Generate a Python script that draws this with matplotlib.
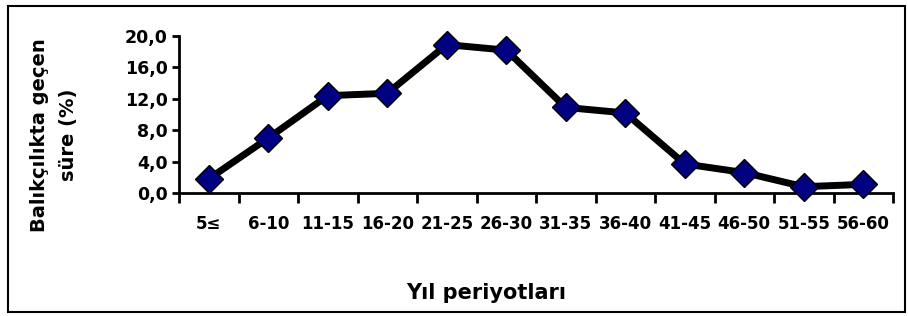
import matplotlib.pyplot as plt
from matplotlib.patches import Rectangle

periods = ['5≤', '6-10', '11-15', '16-20', '21-25', '26-30',
           '31-35', '36-40', '41-45', '46-50', '51-55', '56-60']
values = [1.8, 7.0, 12.4, 12.7, 18.9, 18.2, 10.9, 10.2, 3.7, 2.6, 0.8, 1.1]
yticks = [0, 4, 8, 12, 16, 20]

plt.rcParams['font.family'] = ['DejaVu Sans']
plt.rcParams['font.weight'] = 'bold'

fig = plt.figure(figsize=(9.08, 3.16), dpi=100)
ax = fig.add_axes([179/908, 1-193/316, (893-179)/908, (193-36)/316])

x = list(range(len(periods)))
ax.plot(x, values, color='black', lw=5, marker='D', markersize=14,
        markerfacecolor='#000080', markeredgecolor='black', markeredgewidth=1,
        zorder=3, clip_on=False)

ax.set_xlim(-0.5, len(periods)-0.5)
ax.set_ylim(0, 20)
ax.set_yticks(yticks)
ax.set_yticklabels([f'{v:.1f}'.replace('.', ',') for v in yticks])
ax.set_xticks(x)
ax.set_xticklabels(periods)
ax.set_xticks([i-0.5 for i in range(len(periods)+1)], minor=True)
ax.tick_params(axis='x', which='major', length=0, pad=16, labelsize=12)
ax.tick_params(axis='x', which='minor', length=7, width=2, direction='out')
ax.tick_params(axis='y', length=5, width=2, labelsize=12.5, pad=3)
for lab in ax.get_xticklabels() + ax.get_yticklabels():
    lab.set_fontweight('bold')

for s in ['top', 'right']:
    ax.spines[s].set_visible(False)
for s in ['left', 'bottom']:
    ax.spines[s].set_linewidth(2)

fig.text(54/908, 1-135/316, 'Balıkçılıkta geçen\nsüre (%)', rotation=90,
         ha='center', va='center', fontsize=14, fontweight='bold',
         linespacing=1.7, multialignment='center')
fig.text(486/908, 1-293/316, 'Yıl periyotları', ha='center', va='center',
         fontsize=15, fontweight='bold')

fig.patches.append(Rectangle((8/908, 4/316), (905-8)/908, (310-4)/316,
                             transform=fig.transFigure, fill=False,
                             edgecolor='black', lw=1.5))

fig.savefig('out.png', dpi=100)
